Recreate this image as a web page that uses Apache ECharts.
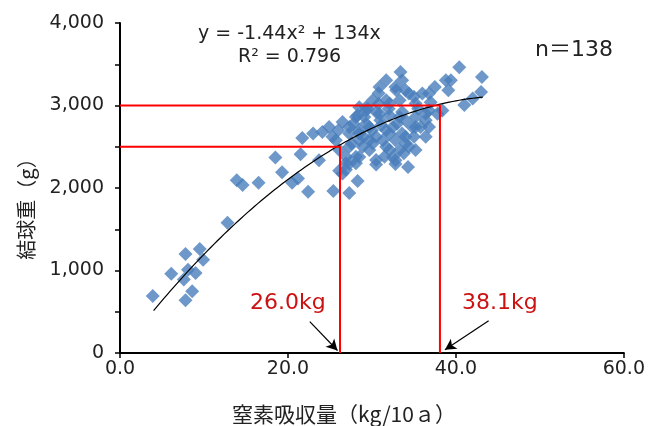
<!DOCTYPE html>
<html><head><meta charset="utf-8">
<script src="https://cdn.jsdelivr.net/npm/echarts@6/dist/echarts.min.js"></script>
<style>html,body{margin:0;padding:0;background:#fff}#c{width:648px;height:426px}</style>
</head><body><div id="c"></div>
<script>
// Nitrogen uptake (kg/10a)
const xVals = [3.9,6.1,7.8,9.5,9.9,8.1,9.0,7.6,8.6,7.8,12.8,13.9,14.6,16.5,18.5,19.3,20.5,21.2,22.4,21.5,21.7,23.7,25.4,27.3,26.1,28.3,30.5,32.8,34.3,
 33.4,40.4,43.1,43.0,41.0,39.4,39.1,37.5,37.8,36.0,30.8,
 32.8,34.0,35.0,33.3,31.7,29.5,29.1,30.5,32.1,33.6,35.2,36.4,35.8,35.0,34.0,33.3,32.8,32.1,31.3,29.7,28.5,27.3,26.5,24.9,24.1,23.0,26.5,27.3,28.5,26.1,27.3,25.7,28.9,29.3,28.1,31.1,32.5,32.8,33.6,32.1,32.5,36.8,38.4,31.7,30.9,30.1,28.5,
 35.2,36.4,36.8,31.7,29.7,28.1,26.9,28.5,30.5,34.0,35.2,
 32.9,34.4,38.8,33.6,32.1,35.2,29.3,30.9,33.3,36.4,29.7,31.7,34.8,30.1,34.4,30.5,
 29.3,28.3,27.3,28.5,26.9,28.1,26.9,
 42.0,36.8,
 25.3,26.0,27.8,29.0,30.0,31.0,32.0,33.0,34.0,35.5,37.0,31.5,33.8,27.6,30.8];
// Head weight (g)
const yVals = [690,960,1200,1260,1130,1010,970,890,750,640,1580,2095,2035,2065,2370,2190,2065,2115,1955,2410,2605,2335,1965,1940,2210,2085,2285,2290,2255,
 3405,3465,3345,3165,3005,3305,3185,3225,2900,3145,3150,
 3225,3185,3105,3065,3065,2960,2860,2920,2880,2920,2860,2820,2740,2620,2540,2460,2335,2660,2580,2580,2660,2740,2800,2740,2680,2660,2175,2295,2375,2460,2500,2580,2500,2780,2860,2760,2740,2580,2660,2460,2375,2940,2940,3305,3225,3065,2980,
 2460,2620,2740,2500,2460,2380,2300,2580,2620,2620,2740,
 3185,3145,3305,3305,3025,3025,2940,2900,2860,2900,2740,2700,2740,2540,2500,2340,
 2980,2880,2660,2700,2380,2300,2220,
 3085,3145,
 2620,2700,2780,2620,2700,2820,2960,2780,2820,2960,3040,2380,2420,2540,3020];
const trendCoef = [-1.44, 134];      // y = a x^2 + b x
const trendRange = [4.0, 43.2];
const targetY = [2500, 3000];
const targetX = [26.2, 38.1];
const targetLabels = ['26.0kg', '38.1kg'];

const FONT = '"DejaVu Sans", "Noto Sans CJK JP", sans-serif';
const JFONT = '"Noto Sans CJK JP", "DejaVu Sans", sans-serif';
const pts = xVals.map((x, i) => [x, yVals[i]]);
const trend = [];
for (let x = trendRange[0]; x <= trendRange[1] + 1e-9; x += 0.4) trend.push([x, trendCoef[0]*x*x + trendCoef[1]*x]);

const redSeries = targetY.map((ty, i) => ({
  type: 'line', data: [[0, ty], [targetX[i], ty], [targetX[i], 0]],
  symbol: 'none', lineStyle: {color: '#ff0000', width: 2}, z: 5, silent: true
}));

const chart = echarts.init(document.getElementById('c'), null, {renderer: 'canvas'});
chart.setOption({
  animation: false,
  grid: {left: 120, right: 23, top: 23, bottom: 73, containLabel: false},
  xAxis: {
    type: 'value', min: 0, max: 60, interval: 20,
    axisLine: {show: true, lineStyle: {color: '#000', width: 2}},
    axisTick: {show: true, length: 5, lineStyle: {color: '#000', width: 1.5}},
    splitLine: {show: false},
    axisLabel: {color: '#222', fontSize: 19, fontFamily: FONT, margin: 7, formatter: v => v.toFixed(1)}
  },
  yAxis: {
    type: 'value', min: 0, max: 4000, interval: 500,
    axisLine: {show: true, lineStyle: {color: '#000', width: 2}},
    axisTick: {show: true, length: 5, lineStyle: {color: '#000', width: 1.5}},
    splitLine: {show: false},
    axisLabel: {color: '#222', fontSize: 19, fontFamily: FONT, margin: 16,
      formatter: v => (v % 1000 === 0 ? v.toLocaleString('en-US') : '')}
  },
  series: [
    {type: 'scatter', data: pts, symbol: 'diamond', symbolSize: 14,
     itemStyle: {color: '#4a7ebb'}, z: 2},
    {type: 'line', data: trend, symbol: 'none', smooth: false,
     lineStyle: {color: '#000', width: 1.2}, z: 4, silent: true},
    ...redSeries,
    {type: 'line', data: [], z: 6, silent: true,
     markLine: {
       silent: true, symbol: ['none', 'arrow'], symbolSize: [9, 11],
       lineStyle: {color: '#000', width: 1.2, type: 'solid'}, label: {show: false},
       data: [
         [{coord: [22.6, 380]}, {coord: [25.9, 30]}],
         [{coord: [43.9, 390]}, {coord: [38.7, 40]}]
       ]
     }}
  ],
  graphic: [
    {type: 'text', left: 198, top: 25, style: {text: 'y = -1.44x² + 134x', fontSize: 19, fontFamily: FONT, fill: '#222'}},
    {type: 'text', left: 238, top: 48, style: {text: 'R² = 0.796', fontSize: 19, fontFamily: FONT, fill: '#222'}},
    {type: 'text', left: 535, top: 39, style: {text: 'n＝138', fontSize: 22, fontFamily: FONT, fill: '#222'}},
    {type: 'text', left: 250, top: 292, style: {text: targetLabels[0], fontSize: 22, fontFamily: FONT, fill: '#cc1111'}},
    {type: 'text', left: 462, top: 292, style: {text: targetLabels[1], fontSize: 22, fontFamily: FONT, fill: '#cc1111'}},
    {type: 'text', x: 344, y: 414, style: {text: '窒素吸収量（kg/10ａ）', fontSize: 21, fontFamily: JFONT, fill: '#222', align: 'center', verticalAlign: 'middle'}},
    {type: 'text', x: 26, y: 204, rotation: Math.PI / 2, style: {text: '結球重（g）', fontSize: 20, fontFamily: JFONT, fill: '#222', align: 'center', verticalAlign: 'middle'}}
  ]
});
</script></body></html>
